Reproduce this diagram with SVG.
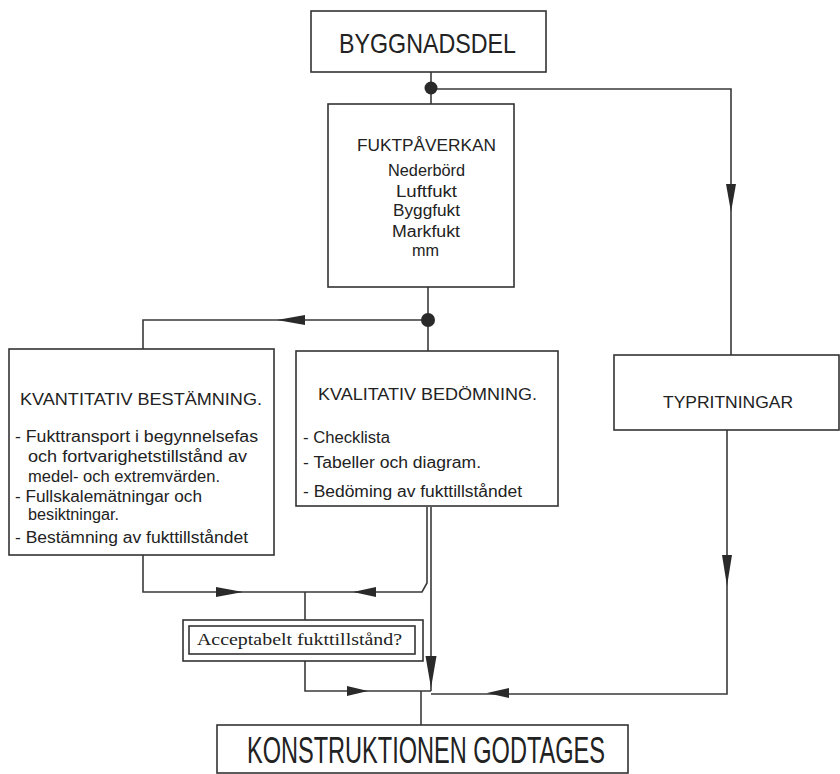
<svg xmlns="http://www.w3.org/2000/svg" width="840" height="774" viewBox="0 0 840 774">
<style>
.box{fill:#fff;stroke:#333;stroke-width:1.6}
.ln{fill:none;stroke:#3a3a3a;stroke-width:1.6}
.ah{fill:#2a2a2a}
.t{font-family:"Liberation Sans",Arial,sans-serif;fill:#222}
.s{font-family:"Liberation Serif","Times New Roman",serif;fill:#222}
</style>
<rect width="840" height="774" fill="#fff"/>
<g id="connectors">
<path class="ln" d="M431,72 V104"/>
<path class="ln" d="M431,89 H731 V355"/>
<path class="ln" d="M428,287 V351"/>
<path class="ln" d="M428,320 H143 V349"/>
<path class="ln" d="M143,555 V592 H422 L427,583 V507"/>
<path class="ln" d="M431,507 V691"/>
<path class="ln" d="M305,592 V620"/>
<path class="ln" d="M305,661 V691 H431"/>
<path class="ln" d="M727,430 V694 H431"/>
<path class="ln" d="M421,691 V725"/>
<circle cx="431" cy="88" r="6.5" fill="#2a2a2a"/>
<circle cx="428" cy="320" r="7" fill="#2a2a2a"/>
<polygon class="ah" points="731,212 726,184 736,184"/>
<polygon class="ah" points="277,320 305,315 305,325"/>
<polygon class="ah" points="243,592 216,587 216,597"/>
<polygon class="ah" points="353,592 376,587 376,597"/>
<polygon class="ah" points="431,688 425.5,656 436.5,656"/>
<polygon class="ah" points="368,691 347,686 347,696"/>
<polygon class="ah" points="727,586 722,555 732,555"/>
<polygon class="ah" points="487,693 509,688 509,698"/>
</g>
<g id="byggnadsdel">
<rect class="box" x="311" y="11" width="235" height="61"/>
<text class="t" x="339" y="53" font-size="27.5" textLength="177" lengthAdjust="spacingAndGlyphs">BYGGNADSDEL</text>
</g>
<g id="fuktpaverkan">
<rect class="box" x="328" y="104" width="186" height="183"/>
<text class="t" x="357" y="151" font-size="16" textLength="139" lengthAdjust="spacingAndGlyphs">FUKTPÅVERKAN</text>
<text class="t" x="388" y="176" font-size="16" textLength="77" lengthAdjust="spacingAndGlyphs">Nederbörd</text>
<text class="t" x="396" y="197" font-size="16" textLength="61" lengthAdjust="spacingAndGlyphs">Luftfukt</text>
<text class="t" x="393" y="216" font-size="16" textLength="67" lengthAdjust="spacingAndGlyphs">Byggfukt</text>
<text class="t" x="392" y="237" font-size="16" textLength="68" lengthAdjust="spacingAndGlyphs">Markfukt</text>
<text class="t" x="412" y="256" font-size="16" textLength="27" lengthAdjust="spacingAndGlyphs">mm</text>
</g>
<g id="kvantitativ">
<rect class="box" x="9" y="349" width="265" height="206"/>
<text class="t" x="20" y="405" font-size="17" textLength="242" lengthAdjust="spacingAndGlyphs">KVANTITATIV BESTÄMNING.</text>
<text class="t" x="15" y="442" font-size="16" textLength="243" lengthAdjust="spacingAndGlyphs">- Fukttransport i begynnelsefas</text>
<text class="t" x="28" y="462" font-size="16" textLength="219" lengthAdjust="spacingAndGlyphs">och fortvarighetstillstånd av</text>
<text class="t" x="28" y="482" font-size="16" textLength="192" lengthAdjust="spacingAndGlyphs">medel- och extremvärden.</text>
<text class="t" x="15" y="502" font-size="16" textLength="187" lengthAdjust="spacingAndGlyphs">- Fullskalemätningar och</text>
<text class="t" x="28" y="520" font-size="16" textLength="91" lengthAdjust="spacingAndGlyphs">besiktningar.</text>
<text class="t" x="15" y="543" font-size="16" textLength="233" lengthAdjust="spacingAndGlyphs">- Bestämning av fukttillståndet</text>
</g>
<g id="kvalitativ">
<rect class="box" x="296" y="351" width="262" height="155"/>
<text class="t" x="318" y="400" font-size="17" textLength="219" lengthAdjust="spacingAndGlyphs">KVALITATIV BEDÖMNING.</text>
<text class="t" x="303" y="443" font-size="16" textLength="87" lengthAdjust="spacingAndGlyphs">- Checklista</text>
<text class="t" x="303" y="468" font-size="16" textLength="178" lengthAdjust="spacingAndGlyphs">- Tabeller och diagram.</text>
<text class="t" x="303" y="497" font-size="16" textLength="219" lengthAdjust="spacingAndGlyphs">- Bedöming av fukttillståndet</text>
</g>
<g id="typritningar">
<rect class="box" x="614" y="355" width="225" height="75"/>
<text class="t" x="663" y="408" font-size="16.5" textLength="130" lengthAdjust="spacingAndGlyphs">TYPRITNINGAR</text>
</g>
<g id="acceptabelt">
<rect class="box" x="183" y="620" width="240" height="41"/>
<rect class="box" x="189" y="626" width="226" height="28"/>
<text class="s" x="197" y="645" font-size="16.5" textLength="205" lengthAdjust="spacingAndGlyphs">Acceptabelt fukttillstånd?</text>
</g>
<g id="konstruktionen">
<rect class="box" x="217" y="725" width="411" height="48"/>
<text class="t" x="247" y="763" font-size="36" textLength="358" lengthAdjust="spacingAndGlyphs">KONSTRUKTIONEN GODTAGES</text>
</g>
</svg>
